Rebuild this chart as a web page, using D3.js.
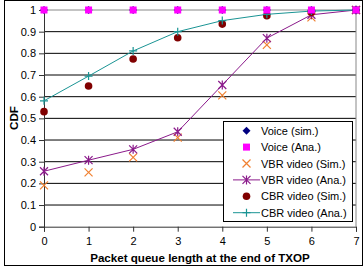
<!DOCTYPE html>
<html>
<head>
<meta charset="utf-8">
<script src="https://cdn.jsdelivr.net/npm/d3@7"></script>
<style>
body { margin: 0; background: #fff; }
text { font-family: "Liberation Sans", Arial, sans-serif; }
</style>
</head>
<body>
<svg width="364" height="268"></svg>
<script>
var queueLen = [0, 1, 2, 3, 4, 5, 6, 7];
var voiceSim = [1, 1, 1, 1, 1, 1, 1, 1];
var voiceAna = [1, 1, 1, 1, 1, 1, 1, 1];
var vbrSim = [0.191, 0.251, 0.32, 0.411, 0.606, 0.839, 0.966, 1.0];
var vbrAna = [0.256, 0.307, 0.357, 0.438, 0.654, 0.87, 0.978, 1.0];
var cbrSim = [0.531, 0.649, 0.774, 0.872, 0.935, 0.974, 0.99, 1.0];
var cbrAna = [0.581, 0.695, 0.811, 0.9, 0.951, 0.98, 0.995, 1.0];
var yTicks = [0, 0.1, 0.2, 0.3, 0.4, 0.5, 0.6, 0.7, 0.8, 0.9, 1];

var svg = d3.select("svg");

// outer frame
svg.append("rect")
	.attr("x", 4.5).attr("y", 0.5)
	.attr("width", 358).attr("height", 265)
	.attr("fill", "white").attr("stroke", "black");

var x = d3.scaleLinear().domain([0, 7]).range([44, 356]);
var y = d3.scaleLinear().domain([0, 1]).range([226.7, 10]);

// gridlines
svg.append("g").selectAll("line")
	.data(yTicks.slice(1))
	.join("line")
	.attr("x1", 44).attr("x2", 356)
	.attr("y1", d => y(d)).attr("y2", d => y(d))
	.attr("stroke", d => d == 1 ? "#888" : "#000")
	.attr("stroke-width", 1);

// plot border right
svg.append("line")
	.attr("x1", 356).attr("x2", 356).attr("y1", y(1)).attr("y2", y(0))
	.attr("stroke", "#888");

var yAxis = svg.append("g")
	.attr("transform", "translate(44,0)")
	.call(d3.axisLeft(y).tickValues(yTicks).tickSize(5).tickPadding(3).tickFormat(d3.format("")));
var xAxis = svg.append("g")
	.attr("transform", "translate(0," + y(0) + ")")
	.call(d3.axisBottom(x).tickValues(queueLen).tickSize(5).tickPadding(6).tickFormat(d3.format("d")));
[yAxis, xAxis].forEach(function(a){
	a.select(".domain").attr("stroke", "#333");
	a.selectAll(".tick line").attr("stroke", "#333");
	a.selectAll("text").attr("font-size", 11).attr("fill", "#000")
		.style("font-family", "'Liberation Sans', Arial, sans-serif");
});

svg.append("text")
	.attr("x", 200).attr("y", 262)
	.attr("text-anchor", "middle")
	.attr("font-size", 11.6).attr("font-weight", "bold")
	.text("Packet queue length at the end of TXOP");
svg.append("text")
	.attr("transform", "translate(18,118) rotate(-90)")
	.attr("text-anchor", "middle")
	.attr("font-size", 11.6).attr("font-weight", "bold")
	.text("CDF");

var line = d3.line().x((d, i) => x(queueLen[i])).y(d => y(d));

svg.append("path").datum(vbrAna).attr("d", line)
	.attr("fill", "none").attr("stroke", "#8b1a8b").attr("stroke-width", 1);
svg.append("path").datum(cbrAna).attr("d", line)
	.attr("fill", "none").attr("stroke", "#1a9494").attr("stroke-width", 1);

// marker drawers
function diamond(g, cx, cy) {
	g.append("path").attr("d", "M" + cx + "," + (cy - 4) + "L" + (cx + 4) + "," + cy + "L" + cx + "," + (cy + 4) + "L" + (cx - 4) + "," + cy + "Z")
		.attr("fill", "#000080");
}
function square(g, cx, cy) {
	g.append("rect").attr("x", cx - 3.5).attr("y", cy - 3.5).attr("width", 7).attr("height", 7)
		.attr("fill", "#ff00ff");
}
function cross(g, cx, cy) {
	g.append("path").attr("d", "M" + (cx - 4) + "," + (cy - 4) + "L" + (cx + 4) + "," + (cy + 4) + "M" + (cx - 4) + "," + (cy + 4) + "L" + (cx + 4) + "," + (cy - 4))
		.attr("stroke", "#f08030").attr("stroke-width", 1.2).attr("fill", "none");
}
function star(g, cx, cy) {
	g.append("path").attr("d", "M" + (cx - 4) + "," + (cy - 4) + "L" + (cx + 4) + "," + (cy + 4) + "M" + (cx - 4) + "," + (cy + 4) + "L" + (cx + 4) + "," + (cy - 4) + "M" + cx + "," + (cy - 4.5) + "L" + cx + "," + (cy + 4.5))
		.attr("stroke", "#8b1a8b").attr("stroke-width", 1.2).attr("fill", "none");
}
function dot(g, cx, cy) {
	g.append("circle").attr("cx", cx).attr("cy", cy).attr("r", 3.8).attr("fill", "#800000");
}
function plus(g, cx, cy) {
	g.append("path").attr("d", "M" + (cx - 4) + "," + cy + "L" + (cx + 4) + "," + cy + "M" + cx + "," + (cy - 4) + "L" + cx + "," + (cy + 4))
		.attr("stroke", "#1a9494").attr("stroke-width", 1.2).attr("fill", "none");
}

var series = [
	{name: "Voice (sim.)", vals: voiceSim, mark: diamond, stroke: null},
	{name: "Voice (Ana.)", vals: voiceAna, mark: square, stroke: null},
	{name: "VBR video (Sim.)", vals: vbrSim, mark: cross, stroke: null},
	{name: "VBR video (Ana.)", vals: vbrAna, mark: star, stroke: "#8b1a8b"},
	{name: "CBR video (Sim.)", vals: cbrSim, mark: dot, stroke: null},
	{name: "CBR video (Ana.)", vals: cbrAna, mark: plus, stroke: "#1a9494"}
];

var marks = svg.append("g");
[2, 3, 4, 5, 0, 1].forEach(function(k){
	series[k].vals.forEach(function(v, i){
		series[k].mark(marks, x(queueLen[i]), y(v));
	});
});

// legend
var lg = svg.append("g");
lg.append("rect")
	.attr("x", 223.5).attr("y", 121.5).attr("width", 129).attr("height", 100)
	.attr("fill", "white").attr("stroke", "black");
series.forEach(function(s, i){
	var ly = 130.7 + i * 16.4;
	if (s.stroke) {
		lg.append("line").attr("x1", 233).attr("x2", 260).attr("y1", ly).attr("y2", ly)
			.attr("stroke", s.stroke);
	}
	s.mark(lg, 246.5, ly);
	lg.append("text").attr("x", 261).attr("y", ly + 4)
		.attr("font-size", 11).text(s.name);
});
</script>
</body>
</html>
